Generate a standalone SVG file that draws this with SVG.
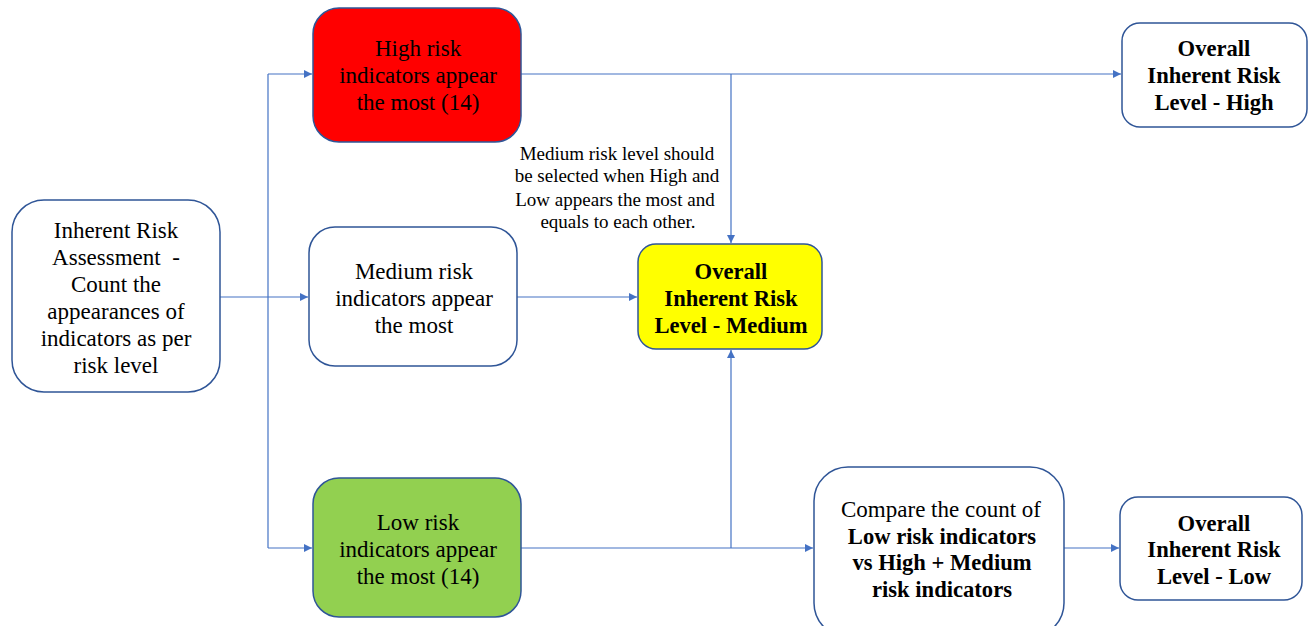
<svg xmlns="http://www.w3.org/2000/svg" width="1309" height="626" viewBox="0 0 1309 626">
  <style>
    .box { stroke: #2F5597; stroke-width: 1.5; }
    .wire { fill: none; stroke: #4472C4; stroke-width: 1.2; }
    text { font-family: "Liberation Serif", "Times New Roman", serif; fill: #000; text-anchor: middle; }
    .t { font-size: 23px; }
    .b { font-size: 22.6px; font-weight: bold; }
    .note { font-size: 19px; }
  </style>
  <defs>
    <marker id="arrow" viewBox="0 0 10 10" refX="10" refY="5" markerWidth="8" markerHeight="8" orient="auto" markerUnits="userSpaceOnUse">
      <path d="M0,0 L10,5 L0,10 z" fill="#4472C4"/>
    </marker>
  </defs>
  <rect width="1309" height="626" fill="#fff"/>

  <!-- connectors -->
  <g id="connectors">
    <path class="wire" d="M220,297 H268"/>
    <path class="wire" d="M268,74 V548"/>
    <path class="wire" d="M268,74 H312" marker-end="url(#arrow)"/>
    <path class="wire" d="M268,297 H308" marker-end="url(#arrow)"/>
    <path class="wire" d="M268,548 H312" marker-end="url(#arrow)"/>
    <path class="wire" d="M521,74 H1121" marker-end="url(#arrow)"/>
    <path class="wire" d="M731,74 V243" marker-end="url(#arrow)"/>
    <path class="wire" d="M517,297 H637" marker-end="url(#arrow)"/>
    <path class="wire" d="M521,548 H813" marker-end="url(#arrow)"/>
    <path class="wire" d="M731,548 V350" marker-end="url(#arrow)"/>
    <path class="wire" d="M1064,548 H1119" marker-end="url(#arrow)"/>
  </g>

  <g id="start">
    <rect class="box" x="12" y="200" width="208" height="192" rx="32" fill="#fff"/>
    <text class="t" x="116" y="238">Inherent Risk</text>
    <text class="t" x="116" y="265">Assessment&#160; -</text>
    <text class="t" x="116" y="292">Count the</text>
    <text class="t" x="116" y="319">appearances of</text>
    <text class="t" x="116" y="346">indicators as per</text>
    <text class="t" x="116" y="373">risk level</text>
  </g>

  <g id="high">
    <rect class="box" x="313" y="8" width="208" height="134" rx="26" fill="#FF0000"/>
    <text class="t" x="418" y="56">High risk</text>
    <text class="t" x="418" y="83">indicators appear</text>
    <text class="t" x="418" y="110">the most (14)</text>
  </g>

  <g id="medium">
    <rect class="box" x="309" y="227" width="208" height="139" rx="26" fill="#fff"/>
    <text class="t" x="414" y="279">Medium risk</text>
    <text class="t" x="414" y="306">indicators appear</text>
    <text class="t" x="414" y="333">the most</text>
  </g>

  <g id="low">
    <rect class="box" x="313" y="478" width="208" height="139" rx="26" fill="#92D050"/>
    <text class="t" x="418" y="530">Low risk</text>
    <text class="t" x="418" y="557">indicators appear</text>
    <text class="t" x="418" y="584">the most (14)</text>
  </g>

  <g id="note">
    <text class="note" x="617" y="160">Medium risk level should</text>
    <text class="note" x="617" y="182">be selected when High and</text>
    <text class="note" x="615" y="206">Low appears the most and</text>
    <text class="note" x="618" y="228">equals to each other.</text>
  </g>

  <g id="result-medium">
    <rect class="box" x="638" y="244" width="184" height="105" rx="18" fill="#FFFF00"/>
    <text class="b" x="731" y="279">Overall</text>
    <text class="b" x="731" y="306">Inherent Risk</text>
    <text class="b" x="731" y="333">Level - Medium</text>
  </g>

  <g id="result-high">
    <rect class="box" x="1122" y="23" width="185" height="104" rx="18" fill="#fff"/>
    <text class="b" x="1214" y="56">Overall</text>
    <text class="b" x="1214" y="83">Inherent Risk</text>
    <text class="b" x="1214" y="110">Level - High</text>
  </g>

  <g id="compare">
    <rect class="box" x="814" y="467" width="250" height="170" rx="34" fill="#fff"/>
    <text class="t" x="941" y="517">Compare the count of</text>
    <text class="b" x="942" y="544">Low risk indicators</text>
    <text class="b" x="942" y="570">vs High + Medium</text>
    <text class="b" x="942" y="597">risk indicators</text>
  </g>

  <g id="result-low">
    <rect class="box" x="1120" y="497" width="182" height="103" rx="18" fill="#fff"/>
    <text class="b" x="1214" y="531">Overall</text>
    <text class="b" x="1214" y="557">Inherent Risk</text>
    <text class="b" x="1214" y="584">Level - Low</text>
  </g>
</svg>
